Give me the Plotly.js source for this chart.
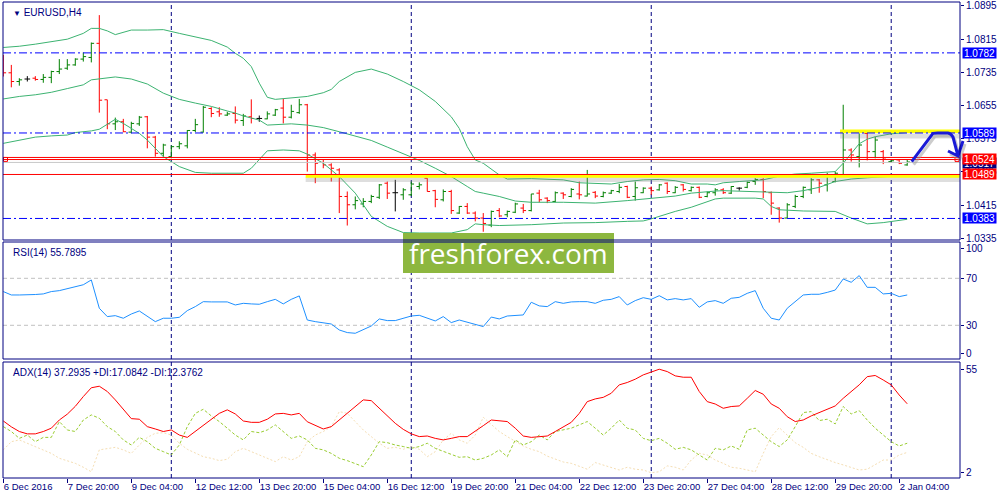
<!DOCTYPE html>
<html>
<head>
<meta charset="utf-8">
<script src="https://cdn.plot.ly/plotly-3.0.1.min.js"></script>
<style>
  html, body { margin: 0; padding: 0; background: #fff; }
  #chart { width: 1000px; height: 500px; }
</style>
</head>
<body>
<div id="chart"></div>
<script>
// EURUSD H4, bar 0 = 6 Dec 2016 12:00, one bar every 4 hours
var tickIdx = [0, 8, 16, 24, 32, 40, 48, 56, 64, 72, 80, 88, 96, 104, 112];
var tickText = ["6 Dec 2016", "7 Dec 20:00", "9 Dec 04:00", "12 Dec 12:00", "13 Dec 20:00",
  "15 Dec 04:00", "16 Dec 12:00", "19 Dec 20:00", "21 Dec 04:00", "22 Dec 12:00",
  "23 Dec 20:00", "27 Dec 04:00", "28 Dec 12:00", "29 Dec 20:00", "2 Jan 04:00"];
// week starts (Monday 00:00 bars)
var weekIdx = [21, 51, 81, 111];

var openP = [1.0765,1.0734,1.0713,1.0719,1.0721,1.0718,1.0723,1.0737,1.0745,1.0753,
  1.0767,1.0771,1.0805,1.0669,1.0611,1.0616,1.0591,1.0611,1.0628,1.0579,
  1.0540,1.0532,1.0556,1.0558,1.0595,1.0591,1.0648,1.0640,1.0632,1.0636,
  1.0619,1.0628,1.0624,1.0623,1.0632,1.0649,1.0627,1.0638,1.0657,1.0536,
  1.0518,1.0512,1.0500,1.0436,1.0416,1.0418,1.0424,1.0434,1.0468,1.0445,
  1.0440,1.0440,1.0460,1.0480,1.0450,1.0428,1.0448,1.0396,1.0412,1.0396,
  1.0384,1.0367,1.0402,1.0392,1.0398,1.0408,1.0402,1.0444,1.0432,1.0424,
  1.0444,1.0436,1.0442,1.0437,1.0446,1.0436,1.0444,1.0448,1.0460,1.0436,
  1.0445,1.0456,1.0452,1.0468,1.0445,1.0464,1.0450,1.0458,1.0436,1.0445,
  1.0452,1.0444,1.0456,1.0458,1.0472,1.0477,1.0445,1.0408,1.0384,1.0412,
  1.0436,1.0452,1.0476,1.0464,1.0472,1.0488,1.0548,1.0532,1.0588,1.0544,
  1.0544,1.0520,1.0524,1.0512];
var highP = [1.0777,1.0753,1.0721,1.0726,1.0726,1.0731,1.0739,1.0767,1.0767,1.0769,
  1.0783,1.0807,1.0873,1.0669,1.0626,1.0623,1.0616,1.0630,1.0630,1.0582,
  1.0563,1.0559,1.0569,1.0596,1.0623,1.0654,1.0651,1.0651,1.0640,1.0653,
  1.0635,1.0670,1.0631,1.0641,1.0647,1.0671,1.0657,1.0671,1.0659,1.0542,
  1.0524,1.0516,1.0504,1.0448,1.0436,1.0432,1.0440,1.0466,1.0472,1.0476,
  1.0456,1.0472,1.0470,1.0480,1.0452,1.0453,1.0452,1.0413,1.0420,1.0400,
  1.0396,1.0402,1.0408,1.0402,1.0421,1.0418,1.0442,1.0452,1.0434,1.0448,
  1.0446,1.0456,1.0472,1.0500,1.0449,1.0448,1.0452,1.0466,1.0462,1.0472,
  1.0458,1.0460,1.0466,1.0470,1.0461,1.0466,1.0460,1.0460,1.0448,1.0456,
  1.0456,1.0461,1.0458,1.0472,1.0480,1.0480,1.0448,1.0410,1.0420,1.0440,
  1.0460,1.0480,1.0478,1.0493,1.0496,1.0657,1.0552,1.0588,1.0590,1.0580,
  1.0548,1.0524,1.0526,1.0524];
var lowP = [1.0725,1.0699,1.0703,1.0713,1.0715,1.0710,1.0709,1.0731,1.0741,1.0751,
  1.0761,1.0759,1.0638,1.0598,1.0596,1.0591,1.0588,1.0606,1.0552,1.0532,
  1.0532,1.0528,1.0550,1.0552,1.0591,1.0590,1.0627,1.0628,1.0630,1.0612,
  1.0606,1.0612,1.0616,1.0622,1.0630,1.0612,1.0624,1.0635,1.0496,1.0468,
  1.0504,1.0472,1.0396,1.0366,1.0405,1.0410,1.0420,1.0430,1.0430,1.0400,
  1.0428,1.0437,1.0453,1.0448,1.0410,1.0424,1.0394,1.0394,1.0394,1.0376,
  1.0351,1.0362,1.0386,1.0386,1.0396,1.0396,1.0400,1.0422,1.0420,1.0422,
  1.0430,1.0434,1.0429,1.0436,1.0432,1.0434,1.0442,1.0444,1.0432,1.0426,
  1.0444,1.0440,1.0450,1.0442,1.0444,1.0448,1.0448,1.0432,1.0434,1.0438,
  1.0442,1.0442,1.0450,1.0456,1.0464,1.0432,1.0392,1.0373,1.0384,1.0408,
  1.0432,1.0442,1.0445,1.0448,1.0470,1.0484,1.0520,1.0506,1.0523,1.0528,
  1.0514,1.0518,1.0514,1.0510];
var closeP = [1.0734,1.0713,1.0717,1.0719,1.0718,1.0723,1.0737,1.0743,1.0753,1.0767,
  1.0773,1.0805,1.0668,1.0611,1.0616,1.0592,1.0612,1.0627,1.0579,1.0540,
  1.0560,1.0556,1.0563,1.0595,1.0609,1.0651,1.0636,1.0635,1.0635,1.0620,
  1.0630,1.0624,1.0624,1.0635,1.0645,1.0627,1.0641,1.0657,1.0536,1.0516,
  1.0512,1.0504,1.0436,1.0416,1.0426,1.0424,1.0436,1.0464,1.0444,1.0445,
  1.0452,1.0466,1.0464,1.0448,1.0429,1.0448,1.0402,1.0412,1.0396,1.0384,
  1.0371,1.0400,1.0389,1.0400,1.0418,1.0402,1.0442,1.0428,1.0426,1.0445,
  1.0440,1.0453,1.0440,1.0442,1.0437,1.0445,1.0450,1.0458,1.0434,1.0457,
  1.0456,1.0450,1.0464,1.0448,1.0458,1.0453,1.0458,1.0434,1.0445,1.0452,
  1.0445,1.0460,1.0456,1.0470,1.0477,1.0448,1.0420,1.0384,1.0416,1.0436,
  1.0458,1.0476,1.0468,1.0488,1.0492,1.0548,1.0536,1.0560,1.0544,1.0572,
  1.0526,1.0522,1.0516,1.0519];

// Bollinger bands at sample bars
var bbUpperX = [0,2,4,6,8,10,11,12,13,14,15,16,18,20,22,24,26,28,29,30,31,32,33,34,36,38,40,41,42,44,
  46,48,50,52,54,56,57,58,59,60,62,63,66,70,72,76,78,80,82,84,86,88,89,90,92,94,95,97,99,101,
  103,104,105,106,107,108,109,111,113];
var bbUpper = [1.0795,1.0798,1.0803,1.0809,1.0815,1.0829,1.0841,1.0841,1.0835,1.0826,1.0832,1.0837,1.0837,1.0838,1.0829,
  1.0821,1.0812,1.0796,1.0781,1.0769,1.0749,1.0709,1.0675,1.0670,1.0673,1.0677,1.0686,1.0694,1.0713,1.0735,
  1.0743,1.0731,1.0713,1.0693,1.0665,1.0628,1.0600,1.0556,1.0524,1.0516,1.0488,1.0478,1.0479,1.0476,1.0469,
  1.0466,1.0472,1.0476,1.0477,1.0474,1.0466,1.0466,1.0464,1.0469,1.0472,1.0475,1.0476,1.0485,1.0490,1.0492,
  1.0494,1.0496,1.0516,1.0539,1.0563,1.0574,1.0580,1.0587,1.0590];
var bbMidX = [0,2,4,6,8,10,11,12,14,16,18,20,22,24,26,28,29,30,32,33,36,38,40,42,44,46,48,50,52,54,
  56,58,59,60,62,64,66,70,74,78,80,82,84,86,88,89,90,94,96,98,100,102,104,106,108,110,113];
var bbMid = [1.0671,1.0677,1.0681,1.0687,1.0696,1.0705,1.0717,1.0719,1.0724,1.0719,1.0707,1.0685,1.0670,1.0661,1.0653,
  1.0642,1.0637,1.0630,1.0620,1.0608,1.0611,1.0608,1.0602,1.0592,1.0582,1.0571,1.0555,1.0539,1.0523,1.0504,
  1.0484,1.0460,1.0448,1.0444,1.0436,1.0425,1.0422,1.0422,1.0420,1.0426,1.0430,1.0433,1.0437,1.0444,1.0448,
  1.0449,1.0450,1.0447,1.0445,1.0445,1.0450,1.0458,1.0472,1.0478,1.0481,1.0483,1.0487];
var bbLowerX = [0,2,4,6,8,9,11,12,13,14,15,16,17,18,19,20,22,24,26,29,30,31,32,33,35,37,38,40,42,44,
  46,48,50,52,56,58,59,60,62,66,70,74,78,80,81,84,86,88,89,90,94,95,96,97,100,104,106,108,110,113];
var bbLower = [1.0564,1.0572,1.0579,1.0582,1.0584,1.0590,1.0594,1.0598,1.0611,1.0622,1.0612,1.0600,1.0588,1.0572,1.0552,
  1.0532,1.0508,1.0494,1.0492,1.0491,1.0492,1.0504,1.0524,1.0546,1.0548,1.0546,1.0538,1.0516,1.0484,1.0444,
  1.0388,1.0364,1.0349,1.0348,1.0348,1.0356,1.0370,1.0368,1.0366,1.0368,1.0372,1.0373,1.0376,1.0377,1.0382,
  1.0400,1.0410,1.0424,1.0430,1.0432,1.0432,1.0430,1.0412,1.0404,1.0401,1.0400,1.0384,1.0370,1.0373,1.0381];

var rsi = [58.7,55.8,55.8,55.8,56.2,56.7,58.7,59.5,61.0,62.5,64.5,68.6,44.5,37.4,38.2,36.0,39.6,42.2,37.4,33.1,
  36.0,36.0,36.8,42.5,45.9,50.1,49.9,49.9,49.9,47.3,48.7,48.2,47.9,50.1,52.1,48.2,52.1,55.0,34.5,33.1,
  32.3,31.1,26.0,23.8,23.2,26.0,29.4,35.4,34.0,34.0,36.0,37.9,38.5,36.0,33.7,37.4,32.3,34.5,32.6,31.1,
  28.9,37.0,35.4,37.9,38.5,38.8,49.6,46.5,45.9,50.1,48.7,49.9,50.1,50.1,48.7,51.3,52.1,54.4,47.3,51.0,
  53.5,52.1,55.2,51.6,52.7,51.6,52.7,45.3,49.9,51.0,48.7,53.0,53.8,57.2,59.5,44.5,36.0,34.5,44.5,50.1,
  55.8,56.4,56.4,58.0,60.0,69.4,66.6,72.3,62.3,62.3,56.7,57.2,54.4,55.8];

var adx = [28.5,25.5,23.1,21.9,21.9,23.1,24.8,29.0,32.0,36.0,41.0,45.5,46.3,43.6,39.3,34.2,29.7,29.4,25.6,24.4,
  23.1,23.9,21.3,20.1,23.1,26.5,29.4,32.4,34.2,32.1,28.5,27.8,27.8,29.4,32.1,32.4,31.6,32.4,28.1,26.1,
  24.4,25.6,29.0,32.4,35.9,39.3,38.9,35.0,30.7,27.3,24.2,21.9,20.5,20.8,19.6,18.8,19.6,20.5,20.5,23.1,
  26.1,29.0,28.5,28.2,24.8,20.8,20.1,20.5,20.8,23.1,25.6,27.8,32.4,38.4,39.8,40.6,42.7,47.0,48.2,49.9,
  52.1,53.5,55.0,53.8,51.6,50.9,50.9,43.6,38.4,37.2,35.0,35.9,36.2,40.1,44.1,42.2,37.2,35.0,30.7,28.2,
  29.0,31.1,32.8,34.2,36.2,40.1,43.6,47.0,51.2,51.8,49.5,47.0,41.8,37.3];
var plusDI = [25.6,23.1,19.6,21.3,17.9,20.1,20.1,28.2,23.9,23.1,29.0,31.6,29.9,25.6,23.1,18.8,16.2,20.1,17.9,14.5,
  12.8,11.1,16.2,25.6,32.4,34.5,31.1,28.2,24.8,21.3,18.8,23.1,22.5,23.9,26.5,23.1,19.6,20.8,18.8,14.5,
  13.7,11.9,9.4,8.2,6.8,5.1,11.1,17.9,17.4,16.2,15.4,14.5,15.4,17.1,14.5,12.8,11.4,9.9,10.2,8.5,
  9.4,11.1,13.7,10.2,18.8,16.2,17.9,21.3,18.8,23.1,23.9,24.8,26.5,28.2,24.8,21.3,24.8,29.0,24.8,23.9,
  19.6,18.4,19.6,17.1,14.0,15.0,13.7,11.1,8.5,14.5,13.7,15.7,14.0,23.9,24.8,21.3,17.9,15.4,18.8,25.6,
  32.8,33.3,28.7,29.4,27.0,35.9,32.1,33.8,29.0,24.8,21.3,17.9,15.7,17.1];
var minusDI = [13.7,17.9,18.8,17.0,15.4,13.5,11.9,9.4,8.0,6.8,4.8,2.5,13.7,14.5,15.0,13.7,11.9,16.2,20.1,22.2,
  22.5,21.3,17.1,14.0,11.9,10.2,9.4,8.2,8.9,12.8,14.5,12.8,11.1,9.4,7.7,10.2,8.5,10.2,17.9,21.3,
  23.1,25.6,33.3,32.4,28.2,23.9,20.5,17.1,14.5,15.0,14.0,15.4,14.0,10.2,12.8,18.8,22.2,18.8,17.1,21.3,
  30.4,26.5,23.1,20.5,17.9,15.7,14.0,12.8,10.5,8.9,7.5,6.8,5.1,3.8,7.2,6.0,4.8,3.4,4.8,3.8,
  3.4,2.0,2.5,5.5,4.8,3.4,8.5,11.9,11.1,8.5,6.8,4.8,4.3,3.4,2.5,11.9,20.5,25.1,21.3,17.4,
  15.0,11.9,10.2,8.5,7.2,6.0,4.8,3.4,3.8,6.0,8.5,8.5,11.1,12.4];

var priceTicks = [1.0335, 1.0415, 1.0495, 1.0575, 1.0655, 1.0735, 1.0815, 1.0895];

var navy = '#000080';
var fontFam = 'Liberation Sans, Arial, sans-serif';

function pickBars(test) {
  var t = {x: [], open: [], high: [], low: [], close: []};
  for (var i = 0; i < closeP.length; i++) {
    if (test(openP[i], closeP[i])) {
      t.x.push(i); t.open.push(openP[i]); t.high.push(highP[i]);
      t.low.push(lowP[i]); t.close.push(closeP[i]);
    }
  }
  return t;
}

function ohlcTrace(bars, color) {
  return {
    type: 'ohlc', x: bars.x, open: bars.open, high: bars.high, low: bars.low, close: bars.close,
    increasing: {line: {color: color, width: 1}},
    decreasing: {line: {color: color, width: 1}},
    tickwidth: 0.35, hoverinfo: 'skip', xaxis: 'x', yaxis: 'y'
  };
}

function idx(n) {
  var a = [];
  for (var i = 0; i < n; i++) a.push(i);
  return a;
}

var bandLine = {color: '#3cb371', width: 1};
var traces = [
  {x: bbUpperX, y: bbUpper, type: 'scatter', mode: 'lines', line: bandLine, xaxis: 'x', yaxis: 'y', hoverinfo: 'skip'},
  {x: bbMidX, y: bbMid, type: 'scatter', mode: 'lines', line: bandLine, xaxis: 'x', yaxis: 'y', hoverinfo: 'skip'},
  {x: bbLowerX, y: bbLower, type: 'scatter', mode: 'lines', line: bandLine, xaxis: 'x', yaxis: 'y', hoverinfo: 'skip'},
  ohlcTrace(pickBars(function (o, c) { return c > o; }), '#008000'),
  ohlcTrace(pickBars(function (o, c) { return c < o; }), '#ff0000'),
  ohlcTrace(pickBars(function (o, c) { return c === o; }), '#000000'),
  {x: idx(rsi.length), y: rsi, type: 'scatter', mode: 'lines', line: {color: '#1e90ff', width: 1},
    xaxis: 'x', yaxis: 'y2', hoverinfo: 'skip'},
  {x: idx(minusDI.length), y: minusDI, type: 'scatter', mode: 'lines', line: {color: '#f5deb3', width: 1, dash: '2px,2px'},
    xaxis: 'x', yaxis: 'y3', hoverinfo: 'skip'},
  {x: idx(plusDI.length), y: plusDI, type: 'scatter', mode: 'lines', line: {color: '#9acd32', width: 1, dash: '3px,2px'},
    xaxis: 'x', yaxis: 'y3', hoverinfo: 'skip'},
  {x: idx(adx.length), y: adx, type: 'scatter', mode: 'lines', line: {color: '#ff0000', width: 1},
    xaxis: 'x', yaxis: 'y3', hoverinfo: 'skip'}
];

var shapes = [];
// weekly separators in every panel
['y', 'y2', 'y3'].forEach(function (ax) {
  weekIdx.forEach(function (w) {
    shapes.push({type: 'line', layer: 'below', xref: 'x', yref: ax + ' domain', x0: w, x1: w, y0: 0, y1: 1,
      line: {color: navy, width: 1, dash: '4px,3px'}});
  });
});
// RSI levels
[70, 30].forEach(function (lv) {
  shapes.push({type: 'line', layer: 'below', xref: 'x domain', yref: 'y2', x0: 0, x1: 1, y0: lv, y1: lv,
    line: {color: '#c0c0c0', width: 1, dash: '4px,3px'}});
});
function hline(p, color, dash) {
  shapes.push({type: 'line', xref: 'x domain', yref: 'y', x0: 0, x1: 1, y0: p, y1: p,
    line: {color: color, width: 1, dash: dash || 'solid'}});
}
function marker(p, x0, color, width, opacity) {
  shapes.push({type: 'line', xref: 'x', yref: 'y', x0: x0, x1: 119.6, y0: p, y1: p,
    opacity: opacity || 1, line: {color: color, width: width}});
}
var dashDot = '8px,3px,2px,3px';
hline(1.0782, '#0000ff', dashDot);
hline(1.0383, '#0000ff', dashDot);
// yellow highlights with soft shadow
marker(1.0582, 104.6, '#808080', 5, 0.25);
marker(1.0593, 104.6, '#ffff00', 3.5);
marker(1.0477, 37.8, '#808080', 5, 0.25);
marker(1.04855, 37.8, '#ffff00', 3.5);
hline(1.0589, '#0000ff', dashDot);
hline(1.0489, '#ff0000');
hline(1.0530, '#ff0000');
hline(1.0525, '#ff0000');
hline(1.0518, '#c8c8c8');
// small handles at both ends of the red pair
[[0.0035, 0.0075], [0.955, 0.959]].forEach(function (h) {
  shapes.push({type: 'rect', xref: 'paper', yref: 'y', x0: h[0], x1: h[1], y0: 1.05205, y1: 1.05300,
    line: {color: '#ff0000', width: 1}, fillcolor: 'rgba(0,0,0,0)'});
});
// hand drawn arrow
var arrowPath = 'M 0.9117 0.6766 L 0.933 0.7333 Q 0.936 0.7345 0.940 0.734 L 0.948 0.734 ' +
  'Q 0.951 0.733 0.953 0.726 L 0.958 0.688 M 0.948 0.698 L 0.958 0.688 L 0.963 0.718';
shapes.push({type: 'path', xref: 'paper', yref: 'paper', path: arrowPath.replace(/([\d.]+) ([\d.]+)/g, function (m, a, b) {
  return (parseFloat(a) + 0.002).toFixed(4) + ' ' + (parseFloat(b) - 0.006).toFixed(4);
}), line: {color: '#9a9a9a', width: 3}, opacity: 0.5});
shapes.push({type: 'path', xref: 'paper', yref: 'paper', path: arrowPath, line: {color: '#1a1ad6', width: 3}});
// watermark
shapes.push({type: 'rect', xref: 'paper', yref: 'paper', x0: 0.403, x1: 0.614, y0: 0.454, y1: 0.534,
  fillcolor: '#8db73f', line: {width: 0}});
// panel frames
[[0.52, 0.996], [0.282, 0.516], [0.044, 0.276]].forEach(function (d) {
  shapes.push({type: 'rect', xref: 'paper', yref: 'paper', x0: 0.003, x1: 0.96, y0: d[0], y1: d[1],
    line: {color: navy, width: 1}, fillcolor: 'rgba(0,0,0,0)'});
});

function priceLabel(p, text, bg) {
  return {xref: 'paper', yref: 'y', x: 0.9615, y: p, xanchor: 'left', yanchor: 'middle', text: text,
    showarrow: false, bgcolor: bg, width: 33, height: 10, borderpad: 0, align: 'center',
    font: {family: fontFam, size: 10, color: '#ffffff'}};
}
function panelText(y, text) {
  return {xref: 'paper', yref: 'paper', x: 0.011, y: y, xanchor: 'left', yanchor: 'middle', text: text,
    showarrow: false, font: {family: fontFam, size: 10, color: navy}};
}

var annotations = [
  priceLabel(1.0517, '1.0517', '#00007f'),
  priceLabel(1.0527, '1.0524', '#ff0000'),
  priceLabel(1.0489, '1.0489', '#ff0000'),
  priceLabel(1.0782, '1.0782', '#0000ff'),
  priceLabel(1.0589, '1.0589', '#0000ff'),
  priceLabel(1.0383, '1.0383', '#0000ff'),
  panelText(0.976, '<span style="font-size:8px">▼</span> EURUSD,H4'),
  panelText(0.496, 'RSI(14) 55.7895'),
  panelText(0.256, 'ADX(14) 37.2935 +DI:17.0842 -DI:12.3762'),
  {xref: 'paper', yref: 'paper', x: 0.5085, y: 0.494, xanchor: 'center', yanchor: 'middle',
    text: 'freshforex.com', showarrow: false, font: {family: 'Open Sans, sans-serif', size: 28, color: '#ffffff'}}
];

var tickFont = {family: fontFam, size: 10, color: navy};
var yCommon = {side: 'right', anchor: 'x', ticks: 'outside', ticklen: 3, tickcolor: navy,
  showgrid: false, zeroline: false, showline: false, tickfont: tickFont, fixedrange: true};

var layout = {
  width: 1000, height: 500,
  margin: {l: 0, r: 0, t: 0, b: 0},
  paper_bgcolor: '#ffffff', plot_bgcolor: '#ffffff',
  showlegend: false, hovermode: false,
  font: {family: fontFam, size: 10, color: navy},
  xaxis: {domain: [0.003, 0.96], range: [-0.04, 119.6], anchor: 'y3', tickmode: 'array',
    tickvals: tickIdx, ticktext: tickText, ticks: 'outside', ticklen: 4, tickcolor: navy, tickangle: 0,
    ticklabelposition: 'outside right', tickfont: {family: fontFam, size: 9.5, color: navy},
    showgrid: false, zeroline: false, showline: false, rangeslider: {visible: false}, fixedrange: true},
  yaxis: Object.assign({}, yCommon, {domain: [0.52, 0.996], range: [1.03311, 1.09046],
    tickmode: 'array', tickvals: priceTicks, tickformat: '.4f'}),
  yaxis2: Object.assign({}, yCommon, {domain: [0.282, 0.516], range: [1.3, 100.9],
    tickmode: 'array', tickvals: [95, 70, 30, 6.4], ticktext: ['100', '70', '30', '0']}),
  yaxis3: Object.assign({}, yCommon, {domain: [0.044, 0.276], range: [-0.7, 58.7],
    tickmode: 'array', tickvals: [55, 2], ticktext: ['55', '2']}),
  shapes: shapes,
  annotations: annotations
};

Plotly.newPlot('chart', traces, layout, {staticPlot: true, displayModeBar: false});
</script>
</body>
</html>
